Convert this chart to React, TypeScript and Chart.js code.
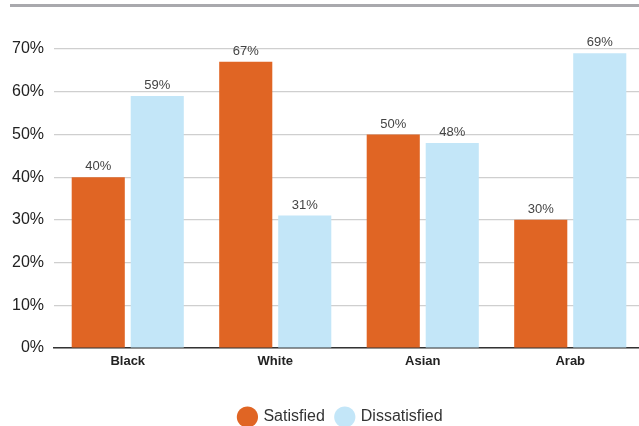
import React, { useEffect, useRef } from "react";
import { Chart, registerables } from "chart.js";

Chart.register(...registerables);

const categories = ["Black", "White", "Asian", "Arab"];
const satisfied = [40, 67, 50, 30];
const dissatisfied = [59, 31, 48, 69];
const yTicks = [0, 10, 20, 30, 40, 50, 60, 70];

const FONT = "'Liberation Sans', Arial, sans-serif";

const valueLabels = {
  id: "valueLabels",
  afterDatasetsDraw(chart: any) {
    const ctx = chart.ctx;
    ctx.save();
    ctx.font = `13px ${FONT}`;
    ctx.fillStyle = "#444";
    ctx.textAlign = "center";
    ctx.textBaseline = "bottom";
    chart.data.datasets.forEach((ds: any, i: number) => {
      const meta = chart.getDatasetMeta(i);
      meta.data.forEach((bar: any, j: number) => {
        ctx.fillText(ds.data[j] + "%", bar.x, bar.y - 4);
      });
    });
    ctx.restore();
  },
};

export default function App() {
  const ref = useRef<HTMLCanvasElement>(null);
  useEffect(() => {
    const chart = new Chart(ref.current!, {
      type: "bar",
      data: {
        labels: categories,
        datasets: [
          {
            label: "Satisfied",
            data: satisfied,
            backgroundColor: "#E06524",
            categoryPercentage: 0.8,
            barPercentage: 0.9,
          },
          {
            label: "Dissatisfied",
            data: dissatisfied,
            backgroundColor: "#C3E6F8",
            categoryPercentage: 0.8,
            barPercentage: 0.9,
          },
        ],
      },
      options: {
        animation: false,
        responsive: false,
        layout: { padding: { top: 49, right: 0, left: 0, bottom: 0 } },
        plugins: {
          tooltip: { enabled: false },
          legend: {
            position: "bottom",
            labels: {
              usePointStyle: true,
              pointStyle: "circle",
              boxHeight: 15,
              font: { family: FONT, size: 16 },
              color: "#333",
              padding: 12,
            },
          },
        },
        scales: {
          x: {
            grid: { display: false, drawTicks: false },
            border: { color: "#333", width: 1.5 },
            ticks: {
              font: { family: FONT, size: 13, weight: "bold" },
              color: "#222",
              padding: 6,
            },
            afterFit: (s: any) => {
              s.height = 49;
            },
          },
          y: {
            min: 0,
            max: 70,
            afterBuildTicks: (s: any) => {
              s.ticks = yTicks.map((v) => ({ value: v }));
            },
            grid: { color: "#cfcfcf", drawTicks: false, lineWidth: 1.2 },
            border: { display: false },
            ticks: {
              font: { family: FONT, size: 16 },
              color: "#222",
              padding: 10,
              callback: (v: any) => v + "%",
            },
            afterFit: (s: any) => {
              s.width = 54;
            },
          },
          yRight: {
            type: "linear",
            position: "right",
            display: true,
            grid: { display: false, drawTicks: false },
            border: { display: false },
            ticks: { display: false },
            afterFit: (s: any) => {
              s.width = 38;
            },
          },
        },
      },
      plugins: [valueLabels],
    });
    return () => chart.destroy();
  }, []);
  return (
    <div
      style={{
        position: "fixed",
        left: 0,
        top: 0,
        width: 639,
        height: 426,
        overflow: "hidden",
        background: "#fff",
      }}
    >
      <div
        style={{
          position: "absolute",
          left: 10,
          top: 4,
          width: 629,
          height: 3,
          background: "#a9a9ad",
        }}
      />
      <canvas
        ref={ref}
        width={682}
        height={435}
        style={{ position: "absolute", left: 0, top: 0 }}
      />
    </div>
  );
}
